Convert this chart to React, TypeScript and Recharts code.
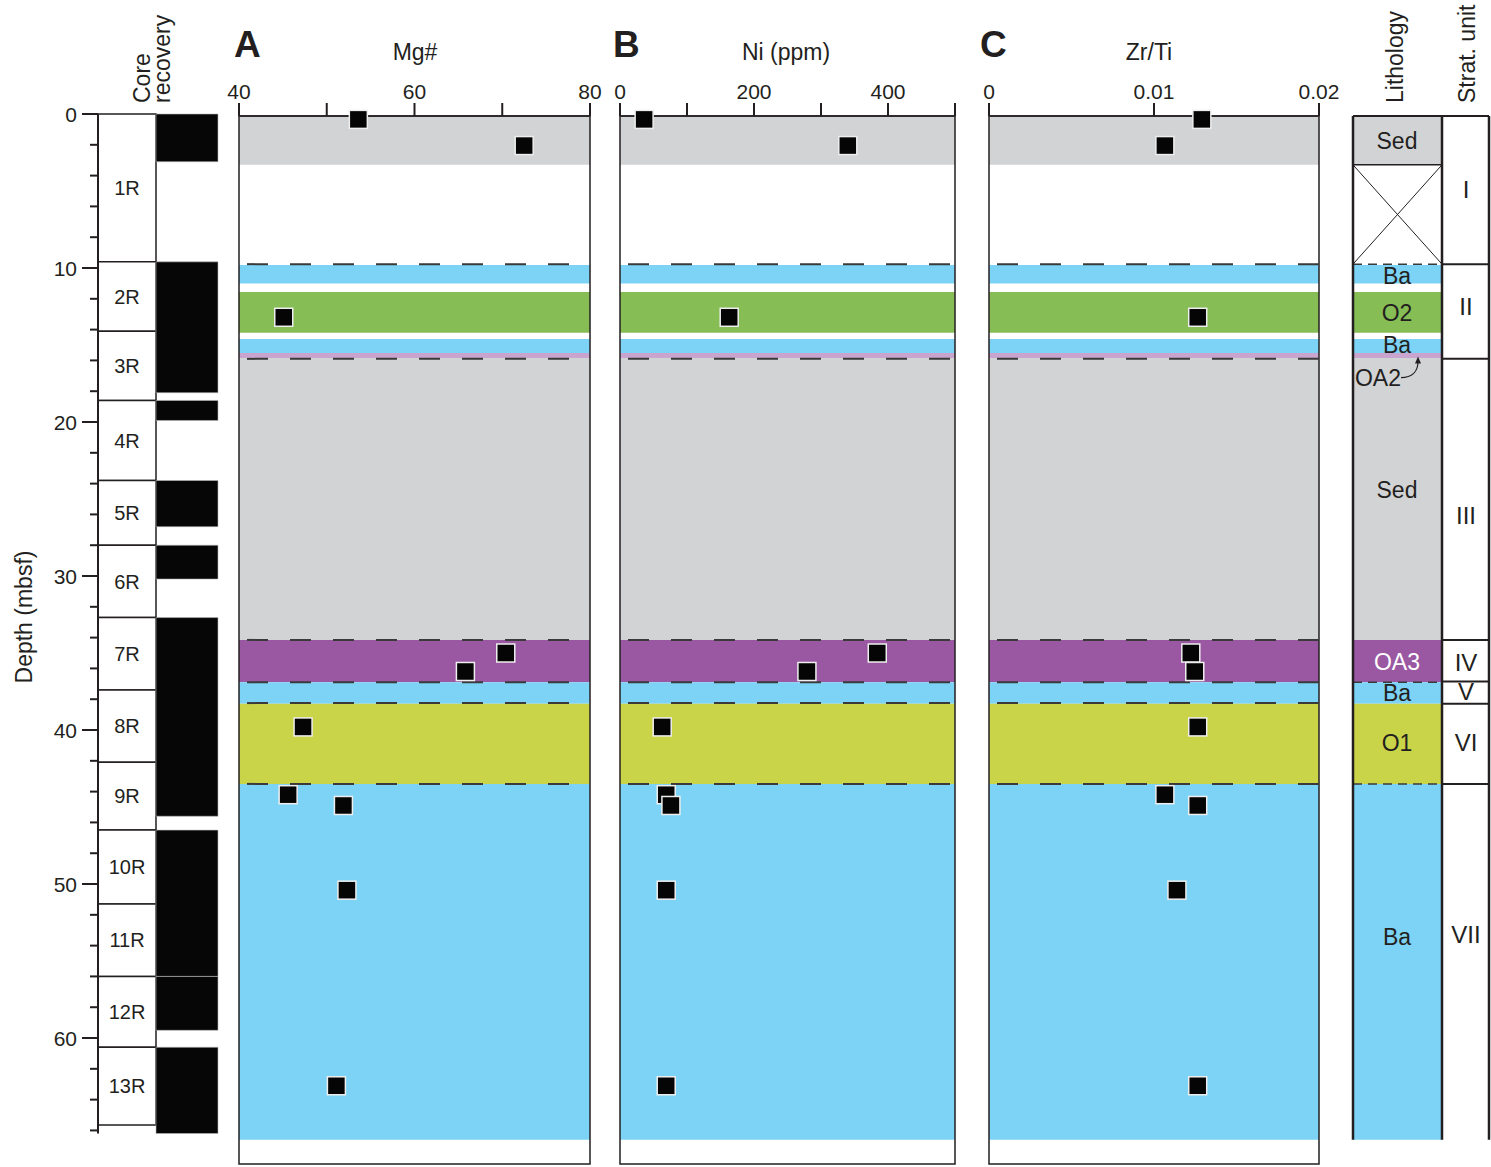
import React from 'react';
import {
  ScatterChart,
  Scatter,
  XAxis,
  YAxis,
  ReferenceArea,
  ReferenceLine,
  ReferenceDot,
} from 'recharts';

const INK = '#231f20';
const FONT = '"Liberation Sans", Arial, Helvetica, sans-serif';

// geochemistry samples (depth in mbsf)
const SAMPLE_DEPTH = [0.35, 2.05, 13.2, 35.0, 36.2, 39.8, 44.2, 44.9, 50.4, 63.1];
const MG_NUMBER = [53.6, 72.5, 45.1, 70.4, 65.8, 47.3, 45.6, 51.9, 52.3, 51.1];
const NI_PPM = [36, 340, 163, 384, 279, 63, 69, 76, 69, 69];
const ZR_TI = [0.0129, 0.01066, 0.01265, 0.01223, 0.01247, 0.01265, 0.01066, 0.01265, 0.01139, 0.01265];

// lithology bands
const BAND_LITH = ['Sed', 'Ba', 'O2', 'Ba', 'OA2', 'Sed', 'OA3', 'Ba', 'O1', 'Ba'];
const BAND_TOP = [0.13, 9.8, 11.56, 14.61, 15.52, 15.84, 34.15, 36.9, 38.3, 43.5];
const BAND_BOTTOM = [3.3, 11.0, 14.2, 15.52, 15.84, 34.15, 36.9, 38.3, 43.5, 66.6];
const CONTACT_DEPTH = [9.75, 15.9, 34.15, 36.9, 38.25, 43.5];
const LITH_CONTACT_DEPTH = [9.75, 36.9, 43.5];

const LITH_LABEL = ['Sed', 'Ba', 'O2', 'Ba', 'OA2', 'Sed', 'OA3', 'Ba', 'O1', 'Ba'];
const LITH_LABEL_DEPTH = [1.75, 10.5, 12.9, 15.0, 17.1, 24.4, 35.6, 37.6, 40.85, 53.4];

const STRAT_UNIT = ['I', 'II', 'III', 'IV', 'V', 'VI', 'VII'];
const STRAT_TOP = [0.13, 9.75, 15.9, 34.15, 36.85, 38.3, 43.5];
const STRAT_LABEL_DEPTH = [4.9, 12.5, 26.1, 35.6, 37.5, 40.8, 53.3];

// cores
const CORE_NAME = ['1R', '2R', '3R', '4R', '5R', '6R', '7R', '8R', '9R', '10R', '11R', '12R', '13R'];
const CORE_TOP = [0, 9.6, 14.1, 18.6, 23.8, 28.0, 32.7, 37.4, 42.1, 46.5, 51.3, 56.0, 60.6];
const CORE_BOTTOM = [9.6, 14.1, 18.6, 23.8, 28.0, 32.7, 37.4, 42.1, 46.5, 51.3, 56.0, 60.6, 65.65];
const REC_TOP = [0, 9.6, 18.6, 23.8, 28.0, 32.7, 46.5, 56.0, 60.6];
const REC_BOTTOM = [3.1, 18.1, 19.9, 26.8, 30.2, 45.6, 56.0, 59.5, 66.2];

const DEPTH_TICKS = [0, 2, 4, 6, 8, 10, 12, 14, 16, 18, 20, 22, 24, 26, 28, 30, 32, 34, 36, 38, 40, 42, 44, 46, 48, 50, 52, 54, 56, 58, 60, 62, 64, 66];
const DEPTH_LABELS = [0, 10, 20, 30, 40, 50, 60];

const LITH_COLOR: Record<string, string> = {
  Sed: '#d1d3d4',
  Ba: '#7dd3f5',
  O2: '#86bd55',
  OA2: '#c8a4cf',
  OA3: '#9a58a3',
  O1: '#cad449',
};

const DEPTH_MAX = 68.18;
const PANEL_TOP = 0.13;

const Square = (props: any) => {
  const { cx, cy } = props;
  if (cx == null || cy == null) return null;
  return <rect x={cx - 9} y={cy - 9} width={18} height={18} fill="#050505" stroke="#eeeeee" strokeWidth={1.5} />;
};

function Panel({ left, plotWidth, values, domain, ticks, labels }: any) {
  const data = values.map((v: number, i: number) => ({ v, depth: SAMPLE_DEPTH[i] }));
  return (
    <div style={{ position: 'absolute', left: left - 20, top: 0 }}>
      <ScatterChart width={plotWidth + 40} height={1167} margin={{ top: 0, right: 20, bottom: 3, left: 20 }}>
        <XAxis
          type="number"
          dataKey="v"
          orientation="top"
          domain={domain}
          ticks={ticks}
          interval={0}
          height={116}
          tickSize={13}
          tickMargin={4}
          tickFormatter={(t: number) => (labels.includes(t) ? String(t) : '')}
          axisLine={{ stroke: INK, strokeWidth: 1.5 }}
          tickLine={{ stroke: INK, strokeWidth: 2 }}
          tick={{ fill: INK, fontSize: 21 }}
        />
        <YAxis type="number" dataKey="depth" domain={[PANEL_TOP, DEPTH_MAX]} reversed hide />
        {BAND_LITH.map((l, i) => (
          <ReferenceArea
            key={'b' + i}
            y1={BAND_TOP[i]}
            y2={BAND_BOTTOM[i]}
            fill={LITH_COLOR[l]}
            fillOpacity={1}
            stroke="none"
            ifOverflow="visible"
          />
        ))}
        {CONTACT_DEPTH.map((d, i) => (
          <ReferenceLine
            key={'c' + i}
            y={d}
            stroke="#3a3a3a"
            strokeWidth={2}
            strokeDasharray="21 22"
            strokeDashoffset={35}
            ifOverflow="visible"
          />
        ))}
        <ReferenceArea
          y1={PANEL_TOP}
          y2={DEPTH_MAX}
          fill="none"
          fillOpacity={0}
          stroke={INK}
          strokeWidth={1.5}
          ifOverflow="visible"
        />
        <Scatter data={data} shape={Square} isAnimationActive={false} />
      </ScatterChart>
    </div>
  );
}

function DepthTick({ x, y, payload }: any) {
  const major = DEPTH_LABELS.includes(payload.value);
  return (
    <g>
      <line x1={x - (major ? 16 : 8)} x2={x} y1={y} y2={y} stroke={INK} strokeWidth={2} />
      {major && (
        <text x={x - 21} y={y} dy="0.36em" textAnchor="end" fontSize={21} fill={INK}>
          {payload.value}
        </text>
      )}
    </g>
  );
}

function CoreColumn() {
  return (
    <div style={{ position: 'absolute', left: 0, top: 0 }}>
      <ScatterChart width={220} height={1167} margin={{ top: 114, right: 2, bottom: 3, left: 0 }}>
        <XAxis type="number" dataKey="x" domain={[0, 120]} hide allowDataOverflow />
        <YAxis
          type="number"
          dataKey="depth"
          domain={[0, DEPTH_MAX]}
          reversed
          width={98}
          ticks={DEPTH_TICKS}
          interval={0}
          tickSize={0}
          tickMargin={0}
          axisLine={false}
          tickLine={false}
          allowDataOverflow
          tick={(p: any) => <DepthTick {...p} />}
        />
        {CORE_NAME.map((n, i) => (
          <ReferenceArea
            key={'core' + i}
            x1={0}
            x2={58}
            y1={CORE_TOP[i]}
            y2={CORE_BOTTOM[i]}
            fill="#ffffff"
            fillOpacity={1}
            stroke={INK}
            strokeWidth={1.5}
            ifOverflow="visible"
            label={{ value: n, position: 'center', fill: INK, fontSize: 20 }}
          />
        ))}
        {REC_TOP.map((t, i) => (
          <ReferenceArea
            key={'rec' + i}
            x1={58}
            x2={120}
            y1={t}
            y2={REC_BOTTOM[i]}
            fill="#060606"
            fillOpacity={1}
            stroke="#b8b8b8"
            strokeWidth={0.6}
            ifOverflow="visible"
          />
        ))}
        <ReferenceLine
          segment={[{ x: 0, y: 0 }, { x: 0, y: 66.2 }]}
          stroke={INK}
          strokeWidth={2}
          ifOverflow="visible"
        />
        <Scatter data={[]} isAnimationActive={false} />
      </ScatterChart>
    </div>
  );
}

const OA2Arrow = (props: any) => {
  const { cx, cy } = props;
  if (cx == null || cy == null) return null;
  return (
    <g>
      <path d={`M ${cx - 17} ${cy + 21} C ${cx - 6} ${cy + 21}, ${cx} ${cy + 15}, ${cx} ${cy + 5}`} fill="none" stroke={INK} strokeWidth={1.2} />
      <path d={`M ${cx} ${cy} L ${cx - 3} ${cy + 7} L ${cx + 3} ${cy + 7} Z`} fill={INK} />
    </g>
  );
};

function LithologyColumn() {
  const LW = 89;
  const RW = 136;
  return (
    <div style={{ position: 'absolute', left: 1343, top: 0 }}>
      <ScatterChart width={148} height={1167} margin={{ top: 116, right: 1, bottom: 3, left: 10 }}>
        <XAxis type="number" dataKey="x" domain={[0, 137]} hide allowDataOverflow />
        <YAxis type="number" dataKey="depth" domain={[PANEL_TOP, DEPTH_MAX]} reversed hide allowDataOverflow />
        {BAND_LITH.map((l, i) => (
          <ReferenceArea
            key={'lb' + i}
            x1={0}
            x2={LW}
            y1={BAND_TOP[i]}
            y2={BAND_BOTTOM[i]}
            fill={LITH_COLOR[l]}
            fillOpacity={1}
            stroke="none"
            ifOverflow="visible"
          />
        ))}
        {LITH_CONTACT_DEPTH.map((d, i) => (
          <ReferenceLine
            key={'lc' + i}
            segment={[{ x: 0, y: d }, { x: LW, y: d }]}
            stroke="#3a3a3a"
            strokeWidth={1.5}
            strokeDasharray="9 6"
            ifOverflow="visible"
          />
        ))}
        {/* no-recovery cross */}
        <ReferenceLine segment={[{ x: 0, y: BAND_BOTTOM[0] }, { x: LW, y: CONTACT_DEPTH[0] }]} stroke={INK} strokeWidth={1} ifOverflow="visible" />
        <ReferenceLine segment={[{ x: LW, y: BAND_BOTTOM[0] }, { x: 0, y: CONTACT_DEPTH[0] }]} stroke={INK} strokeWidth={1} ifOverflow="visible" />
        <ReferenceLine segment={[{ x: 0, y: BAND_BOTTOM[0] }, { x: LW, y: BAND_BOTTOM[0] }]} stroke={INK} strokeWidth={1.5} ifOverflow="visible" />
        {STRAT_TOP.map((d, i) => (
          <ReferenceLine
            key={'st' + i}
            segment={[{ x: i === 0 ? 0 : LW, y: d }, { x: RW, y: d }]}
            stroke={INK}
            strokeWidth={2}
            ifOverflow="visible"
          />
        ))}
        <ReferenceLine segment={[{ x: 0, y: PANEL_TOP }, { x: 0, y: 66.6 }]} stroke={INK} strokeWidth={2.5} ifOverflow="visible" />
        <ReferenceLine segment={[{ x: LW, y: PANEL_TOP }, { x: LW, y: 66.6 }]} stroke={INK} strokeWidth={2.5} ifOverflow="visible" />
        <ReferenceLine segment={[{ x: RW, y: PANEL_TOP }, { x: RW, y: 66.6 }]} stroke={INK} strokeWidth={2.5} ifOverflow="visible" />
        {LITH_LABEL.map((l, i) => (
          <ReferenceDot
            key={'ll' + i}
            x={l === 'OA2' ? 25 : 44}
            y={LITH_LABEL_DEPTH[i]}
            r={0}
            fill="none"
            stroke="none"
            ifOverflow="visible"
            label={{ value: l, position: 'center', fill: l === 'OA3' ? '#ffffff' : INK, fontSize: 23 }}
          />
        ))}
        <ReferenceDot x={65} y={15.75} r={0} ifOverflow="visible" shape={OA2Arrow} />
        {STRAT_UNIT.map((u, i) => (
          <ReferenceDot
            key={'su' + i}
            x={113}
            y={STRAT_LABEL_DEPTH[i]}
            r={0}
            fill="none"
            stroke="none"
            ifOverflow="visible"
            label={{ value: u, position: 'center', fill: INK, fontSize: 24 }}
          />
        ))}
        <Scatter data={[]} isAnimationActive={false} />
      </ScatterChart>
    </div>
  );
}

export default function App() {
  return (
    <div
      style={{
        position: 'absolute',
        left: 0,
        top: 0,
        width: 1491,
        height: 1167,
        background: '#ffffff',
        fontFamily: FONT,
        overflow: 'hidden',
      }}
    >
      <CoreColumn />
      <Panel left={239} plotWidth={351} values={MG_NUMBER} domain={[40, 80]} ticks={[40, 50, 60, 70, 80]} labels={[40, 60, 80]} />
      <Panel left={620} plotWidth={335} values={NI_PPM} domain={[0, 500]} ticks={[0, 100, 200, 300, 400, 500]} labels={[0, 200, 400]} />
      <Panel left={989} plotWidth={330} values={ZR_TI} domain={[0, 0.02]} ticks={[0, 0.01, 0.02]} labels={[0, 0.01, 0.02]} />
      <LithologyColumn />
      <svg
        width={1491}
        height={1167}
        style={{ position: 'absolute', left: 0, top: 0, pointerEvents: 'none' }}
        fontFamily={FONT}
        fill={INK}
      >
        <text transform="rotate(-90 150 103)" x={150} y={103} fontSize={23}>Core</text>
        <text transform="rotate(-90 170 103)" x={170} y={103} fontSize={23}>recovery</text>
        <text transform="rotate(-90 1403 103)" x={1403} y={103} fontSize={23}>Lithology</text>
        <text transform="rotate(-90 1475 103)" x={1475} y={103} fontSize={23}>Strat. unit</text>
        <text transform="rotate(-90 32 617)" x={32} y={617} fontSize={23} textAnchor="middle">Depth (mbsf)</text>
        <text x={234} y={57} fontSize={37} fontWeight="bold">A</text>
        <text x={613} y={57} fontSize={37} fontWeight="bold">B</text>
        <text x={980} y={57} fontSize={37} fontWeight="bold">C</text>
        <text x={415} y={60} fontSize={23} textAnchor="middle">Mg#</text>
        <text x={786} y={60} fontSize={23} textAnchor="middle">Ni (ppm)</text>
        <text x={1149} y={60} fontSize={23} textAnchor="middle">Zr/Ti</text>
      </svg>
    </div>
  );
}
